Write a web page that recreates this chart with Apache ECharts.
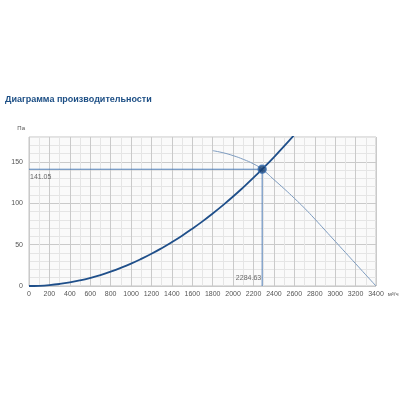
<!DOCTYPE html>
<html><head><meta charset="utf-8">
<script src="https://cdn.jsdelivr.net/npm/echarts@6/dist/echarts.min.js"></script>
<style>html,body{margin:0;padding:0;background:#fff}#c{width:400px;height:400px}</style>
</head><body><div id="c"></div>
<script>
const titleText = 'Диаграмма производительности';
const yName = 'Па';
const xName = 'м³/ч';
// system curve (flow m³/h, pressure Pa)
const systemX = [0,100,200,300,400,500,600,700,800,900,1000,1100,1200,1300,1400,1500,1600,1700,1800,1900,2000,2100,2200,2300,2400,2500,2600];
const systemY = [0,0.27,1.08,2.43,4.32,6.76,9.73,13.2,17.3,21.9,27.0,32.7,38.9,45.7,53.0,60.8,69.2,78.1,87.6,97.6,108.1,119.2,130.8,143.0,155.7,168.9,182.7];
// fan curve
const fanX = [1800,1900,2000,2100,2200,2284.63,2400,2500,2600,2700,2800,2900,3000,3100,3200,3300,3400];
const fanY = [163.5,161,157.5,153,147.5,141.05,128.5,117.5,106,94,81,67.5,54,40.5,27,13.5,0];
// operating point
const opX = 2284.63;
const opY = 141.05;

const chart = echarts.init(document.getElementById('c'), null, {renderer:'canvas'});
const pair = (xs, ys) => xs.map((x,i)=>[x, ys[i]]);
const major = '#cacaca', minor = '#e5e5e5';
chart.setOption({
  animation:false,
  title:{text:titleText,left:0,top:90,textStyle:{fontFamily:'Liberation Sans',fontSize:9,fontWeight:'bold',color:'#1d4f85'}},
  grid:{left:29,right:24,top:137,bottom:114,show:true,backgroundColor:'#fafafa',borderColor:'#c4c4c4',borderWidth:1},
  xAxis:{type:'value',min:0,max:3400,interval:100,
    name:xName,nameLocation:'end',nameGap:4,nameTextStyle:{fontSize:6,color:'#555',fontFamily:'Liberation Sans',verticalAlign:'top',padding:[5,0,0,0]},
    axisLine:{show:false},axisTick:{show:false},
    axisLabel:{fontSize:7,color:'#555',fontFamily:'Liberation Sans',margin:5,formatter:v=>v%200===0?String(v):''},
    splitLine:{show:true,lineStyle:{color:[major,minor],width:1}}},
  yAxis:{type:'value',min:0,max:180,interval:10,
    name:yName,nameLocation:'end',nameGap:6,nameTextStyle:{fontSize:6,color:'#555',fontFamily:'Liberation Sans',align:'right',padding:[0,4,0,0]},
    axisLine:{show:false},axisTick:{show:false},
    axisLabel:{fontSize:7,color:'#555',fontFamily:'Liberation Sans',margin:6,formatter:v=>v%50===0?String(v):''},
    splitLine:{show:true,lineStyle:{color:[major,minor,minor,minor,minor],width:1}}},
  series:[
    {type:'line',data:pair(systemX,systemY),smooth:true,showSymbol:false,lineStyle:{color:'#1f4f8a',width:1.8},z:3},
    {type:'line',data:pair(fanX,fanY),smooth:true,showSymbol:false,lineStyle:{color:'#7d9bbf',width:1},z:2},
    {type:'line',data:[[0,opY],[opX,opY]],showSymbol:false,lineStyle:{color:'#4f7db5',width:1},z:2},
    {type:'line',data:[[opX,opY],[opX,0]],showSymbol:false,lineStyle:{color:'#4f7db5',width:1},z:2},
    {type:'scatter',data:[[opX,opY]],symbolSize:8,itemStyle:{color:'#163f70',borderColor:'#3f73b3',borderWidth:1.5},z:5},
    {type:'scatter',data:[[0,opY]],symbolSize:0,silent:true,
      label:{show:true,position:'bottom',align:'left',offset:[1,-1],formatter:String(opY),fontSize:7,color:'#444',fontFamily:'Liberation Sans'}},
    {type:'scatter',data:[[opX,0]],symbolSize:0,silent:true,
      label:{show:true,position:'top',align:'right',offset:[-1,1],formatter:String(opX),fontSize:7,color:'#444',fontFamily:'Liberation Sans'}}
  ]
});
</script></body></html>
